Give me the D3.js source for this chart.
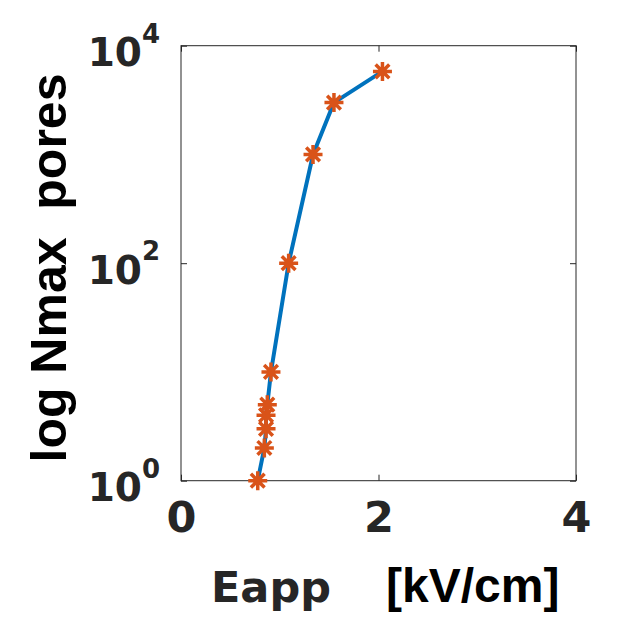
<!DOCTYPE html>
<html><head><meta charset="utf-8">
<script src="https://cdn.jsdelivr.net/npm/d3@7/dist/d3.min.js"></script>
<style>body{margin:0;background:#fff}svg{display:block}</style>
</head><body>
<svg id="c" width="634" height="641"></svg>
<script>
const eapp = [0.777, 0.844, 0.861, 0.861, 0.874, 0.911, 1.09, 1.337, 1.549, 2.04];
const nmax = [1, 2, 3, 4, 5, 10, 100, 1000, 3000, 5800];
const xTicks = [0, 2, 4];
const yTicks = [1, 100, 10000];
const yTickExp = ["0", "2", "4"];

const svg = d3.select("#c");
const L = 181, R = 576, T = 45.7, B = 480.7;
const x = d3.scaleLinear().domain([0, 4]).range([L, R]);
const y = d3.scaleLog().domain([1, 10000]).range([B, T]);
const axisColor = "#262626";

// frame
svg.append("rect").attr("x", L).attr("y", T).attr("width", R - L).attr("height", B - T)
  .attr("fill", "none").attr("stroke", axisColor).attr("stroke-width", 1);

// axes via d3
const gx = svg.append("g").attr("transform", `translate(0,${B})`)
  .call(d3.axisBottom(x).tickValues(xTicks).tickSize(-6).tickPadding(21).tickFormat(d3.format("d")));
const gxt = svg.append("g").attr("transform", `translate(0,${T})`)
  .call(d3.axisTop(x).tickValues(xTicks).tickSize(-6).tickFormat(""));
const gy = svg.append("g").attr("transform", `translate(${L},0)`)
  .call(d3.axisLeft(y).tickValues(yTicks).tickSize(-6).tickFormat(""));
const gyr = svg.append("g").attr("transform", `translate(${R},0)`)
  .call(d3.axisRight(y).tickValues(yTicks).tickSize(-6).tickFormat(""));
[gx, gxt, gy, gyr].forEach(g => {
  g.select(".domain").remove();
  g.selectAll(".tick line").attr("stroke", axisColor);
});
gx.selectAll(".tick text").attr("font-family", "DejaVu Sans").attr("font-weight", "bold")
  .attr("font-size", 43).attr("fill", axisColor).attr("dy", "0.71em");

// y tick labels 10^n
yTicks.forEach((v, i) => {
  svg.append("text").attr("x", 142).attr("y", y(v) + 20.5)
    .attr("text-anchor", "end").attr("font-family", "DejaVu Sans").attr("font-weight", "bold")
    .attr("font-size", 39).attr("fill", axisColor).text("10");
  svg.append("text").attr("x", 142).attr("y", y(v) - 3)
    .attr("font-family", "DejaVu Sans").attr("font-weight", "bold")
    .attr("font-size", 26).attr("fill", axisColor).text(yTickExp[i]);
});

// labels
svg.append("text").attr("x", 211).attr("y", 602)
  .attr("font-family", "DejaVu Sans").attr("font-weight", "bold").attr("font-size", 43)
  .attr("fill", axisColor).text("Eapp");
svg.append("text").attr("x", 386).attr("y", 602)
  .attr("font-family", "Liberation Sans").attr("font-weight", "bold").attr("font-size", 48)
  .attr("fill", "#000").text("[kV/cm]");
svg.append("text").attr("transform", `translate(66,268) rotate(-90)`)
  .attr("text-anchor", "middle").attr("font-family", "Liberation Sans").attr("font-weight", "bold")
  .attr("font-size", 50).attr("fill", "#000").attr("xml:space", "preserve")
  .style("white-space", "pre").text("log Nmax  pores");

// line
const data = eapp.map((e, i) => [e, nmax[i]]);
svg.append("path").datum(data)
  .attr("d", d3.line().x(d => x(d[0])).y(d => y(d[1])))
  .attr("fill", "none").attr("stroke", "#0072BD").attr("stroke-width", 4)
  .attr("stroke-linejoin", "round");

// asterisk markers
const r = 9.5, rd = r * 0.72;
const star = `M0,${-r}V${r}M${-r},0H${r}M${-rd},${-rd}L${rd},${rd}M${-rd},${rd}L${rd},${-rd}`;
svg.append("g").selectAll("path").data(data).join("path")
  .attr("transform", d => `translate(${x(d[0])},${y(d[1])})`)
  .attr("d", star).attr("fill", "none").attr("stroke", "#D95319").attr("stroke-width", 3.5);
</script>
</body></html>
